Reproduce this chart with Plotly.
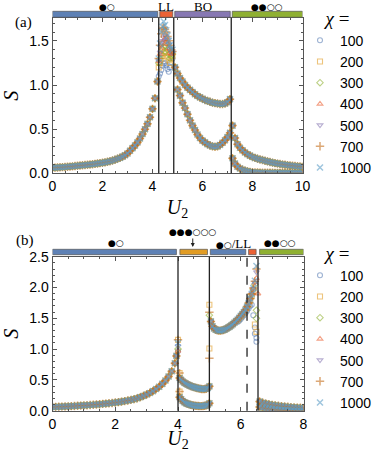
import numpy as np
import plotly.graph_objects as go

W, H = 374, 452

# ---------------- series definitions ----------------
chi_labels = ["100", "200", "300", "400", "500", "700", "1000"]
colors = ["#5E81B5", "#E19C24", "#8FB032", "#EB6235", "#8778B3", "#C56E1A", "#5D9EC7"]
symbols = ["circle-open", "square-open", "diamond-open", "triangle-up-open",
           "triangle-down-open", "cross-thin-open", "x-thin-open"]

# ---------------- panel (a) data ----------------
U_a1 = np.round(np.arange(0.0, 4.21, 0.1), 2)
S_a1 = [0.062, 0.064, 0.066, 0.068, 0.070, 0.072, 0.074, 0.076, 0.079, 0.082,
        0.085, 0.088, 0.091, 0.094, 0.097, 0.100, 0.103, 0.107, 0.111, 0.115,
        0.119, 0.124, 0.130, 0.137, 0.145, 0.154, 0.164, 0.175, 0.189, 0.205,
        0.225, 0.255, 0.285, 0.315, 0.350, 0.395, 0.445, 0.500, 0.560, 0.635,
        0.730, 0.850, 1.040]

U_a_LL = [4.25, 4.3, 4.35, 4.4, 4.45, 4.5, 4.55, 4.6, 4.65, 4.7, 4.75, 4.8]
S_a_LL = {
    "100":  [1.10, 1.13, 1.17, 1.22, 1.24, 1.25, 1.22, 1.18, 1.15, 1.20, 1.26, 1.30],
    "200":  [1.20, 1.25, 1.30, 1.33, 1.36, 1.38, 1.36, 1.32, 1.28, 1.25, 1.30, 1.33],
    "300":  [1.25, 1.30, 1.35, 1.40, 1.43, 1.45, 1.44, 1.40, 1.35, 1.30, 1.33, 1.35],
    "400":  [1.27, 1.35, 1.42, 1.48, 1.51, 1.52, 1.50, 1.46, 1.41, 1.36, 1.35, 1.36],
    "500":  [1.28, 1.37, 1.45, 1.50, 1.54, 1.56, 1.55, 1.51, 1.46, 1.40, 1.37, 1.37],
    "700":  [1.30, 1.45, 1.58, 1.64, 1.65, 1.63, 1.60, 1.55, 1.50, 1.45, 1.40, 1.38],
    "1000": [1.30, 1.47, 1.60, 1.66, 1.72, 1.68, 1.62, 1.56, 1.50, 1.45, 1.42, 1.40],
}

U_a_BO_up = np.round(np.arange(4.9, 7.11, 0.1), 2)
S_a_BO_up = [1.20, 1.13, 1.08, 1.04, 1.00, 0.97, 0.945, 0.92, 0.895, 0.875,
             0.86, 0.845, 0.83, 0.82, 0.81, 0.80, 0.795, 0.79, 0.785, 0.785,
             0.79, 0.805, 0.84]
U_a_BO_lo = np.round(np.arange(5.0, 7.11, 0.1), 2)
S_a_BO_lo = [0.95, 0.88, 0.80, 0.74, 0.67, 0.60, 0.54, 0.49, 0.44, 0.40,
             0.37, 0.35, 0.33, 0.315, 0.305, 0.30, 0.305, 0.32, 0.345, 0.375,
             0.41, 0.46]

U_a_R = np.round(np.arange(7.2, 10.01, 0.1), 2)
S_a_R_up = [0.54, 0.40, 0.33, 0.29, 0.26, 0.235, 0.215, 0.20, 0.185, 0.175,
            0.165, 0.157, 0.15, 0.142, 0.135, 0.128, 0.121, 0.115, 0.11, 0.105,
            0.10, 0.096, 0.093, 0.089, 0.086, 0.083, 0.08, 0.077, 0.075]
S_a_R_lo = [0.17, 0.11, 0.075, 0.055, 0.04, 0.03, 0.022, 0.016, 0.012, 0.010,
            0.009, 0.008, 0.007, 0.007, 0.006, 0.006, 0.006, 0.005, 0.005, 0.005,
            0.005, 0.005, 0.005, 0.005, 0.005, 0.005, 0.005, 0.005, 0.005]

# ---------------- panel (b) data ----------------
U_b1 = np.round(np.append(np.arange(0.0, 3.91, 0.1), 3.95), 2)
S_b1 = [0.060, 0.062, 0.064, 0.066, 0.068, 0.071, 0.074, 0.077, 0.080, 0.083,
        0.086, 0.089, 0.093, 0.097, 0.101, 0.105, 0.110, 0.115, 0.120, 0.126,
        0.132, 0.139, 0.147, 0.156, 0.165, 0.175, 0.188, 0.203, 0.220, 0.240,
        0.262, 0.288, 0.318, 0.352, 0.390, 0.435, 0.490, 0.555, 0.640, 0.770,
        0.890]
U_b1_end = 4.0
S_b1_end = {"100": 0.97, "200": 1.15, "300": 1.00, "400": 0.97,
            "500": 1.05, "700": 1.15, "1000": 1.10}

U_b2 = np.round(np.arange(4.05, 5.001, 0.05), 2)
S_b2_up = [0.53, 0.50, 0.475, 0.455, 0.44, 0.425, 0.413, 0.402, 0.392, 0.383,
           0.375, 0.368, 0.362, 0.357, 0.353, 0.351, 0.352, 0.357, 0.370, 0.395]
S_b2_lo = [0.22, 0.185, 0.158, 0.138, 0.123, 0.112, 0.103, 0.096, 0.090, 0.085,
           0.081, 0.078, 0.076, 0.075, 0.075, 0.077, 0.080, 0.086, 0.097, 0.120]

U_b3 = np.round(np.arange(5.05, 5.851, 0.05), 2)
S_b3 = [1.45, 1.37, 1.335, 1.315, 1.305, 1.30, 1.30, 1.305, 1.31, 1.32,
        1.335, 1.35, 1.365, 1.385, 1.405, 1.43, 1.455]
U_b3_tail = np.round(np.arange(5.9, 6.501, 0.05), 2)
S_b3_tail = {
    "100":  [1.44, 1.46, 1.49, 1.52, 1.55, 1.58, 1.62, 1.66, 1.70, 1.72, 1.55, 1.35, 1.18],
    "200":  [1.47, 1.50, 1.53, 1.56, 1.59, 1.63, 1.68, 1.73, 1.79, 1.86, 1.93, 1.40, 1.28],
    "300":  [1.48, 1.51, 1.54, 1.57, 1.60, 1.64, 1.69, 1.75, 1.82, 1.89, 1.97, 2.05, 1.63],
    "400":  [1.48, 1.51, 1.54, 1.57, 1.60, 1.64, 1.69, 1.75, 1.82, 1.90, 1.98, 2.08, 2.15],
    "500":  [1.48, 1.51, 1.54, 1.57, 1.60, 1.64, 1.69, 1.75, 1.82, 1.90, 1.98, 2.08, 2.25],
    "700":  [1.48, 1.51, 1.54, 1.57, 1.60, 1.64, 1.69, 1.75, 1.82, 1.90, 1.99, 2.10, 2.30],
    "1000": [1.48, 1.51, 1.54, 1.57, 1.60, 1.64, 1.69, 1.75, 1.82, 1.90, 1.99, 2.11, 2.35],
}

U_b4 = np.round(np.arange(6.6, 8.001, 0.1), 2)
S_b4_up = [0.15, 0.13, 0.115, 0.105, 0.095, 0.087, 0.080, 0.074, 0.068, 0.063,
           0.058, 0.054, 0.050, 0.047, 0.044]
S_b4_lo = [0.06, 0.045, 0.035, 0.027, 0.021, 0.016, 0.012, 0.009, 0.007, 0.005,
           0.004, 0.003, 0.003, 0.002, 0.002]

# isolated points of individual chi near transitions in (b)
extra_U_b = {"100": [6.45, 6.5], "200": [4.05, 4.05, 5.0, 5.0], "300": [5.0, 6.5],
             "400": [6.55], "500": [], "700": [4.05, 4.05, 5.0, 5.0], "1000": []}
extra_S_b = {"100": [1.25, 1.12], "200": [0.61, 0.31, 1.72, 1.01], "300": [1.55, 1.50],
             "400": [1.90], "500": [], "700": [0.61, 0.31, 1.60, 0.85], "1000": []}

# phase boundaries and bars
bounds_a = [4.25, 4.85, 7.15]
bar_a_start = [0.0, 4.29, 4.89, 7.19]
bar_a_end = [4.21, 4.81, 7.11, 10.0]
bar_a_color = ["#5E81B5", "#EB6235", "#8778B3", "#8FB032"]
bar_a_text = ["●○", "LL", "BO", "●●○○"]
bar_a_text_x = [2.18, 4.55, 6.02, 8.58]

bounds_b = [4.0, 5.0, 6.55]
bound_b_dashed = [6.2]
bar_b_start = [0.0, 4.06, 5.03, 6.25, 6.6]
bar_b_end = [3.95, 4.94, 6.16, 6.49, 8.0]
bar_b_color = ["#5E81B5", "#E19C24", "#5E81B5", "#EB6235", "#8FB032"]
bar_b_text = ["●○", "●○/LL", "●●○○"]
bar_b_text_x = [2.02, 5.78, 7.25]
arrow_b_x = 4.47
arrow_b_text = "●●●○○○"

# ---------------- figure ----------------
def pxx(px):
    return px / W

def pxy(py):
    return 1 - py / H

fig = go.Figure()

for i, lab in enumerate(chi_labels):
    Ua = np.concatenate([U_a1, U_a_LL, U_a_BO_up, U_a_BO_lo, U_a_R, U_a_R])
    Sa = np.concatenate([S_a1, S_a_LL[lab], S_a_BO_up, S_a_BO_lo, S_a_R_up, S_a_R_lo])
    Ub = np.concatenate([U_b1, [U_b1_end], U_b2, U_b2, U_b3, U_b3_tail, U_b4, U_b4, extra_U_b[lab]])
    Sb = np.concatenate([S_b1, [S_b1_end[lab]], S_b2_up, S_b2_lo, S_b3, S_b3_tail[lab],
                         S_b4_up, S_b4_lo, extra_S_b[lab]])
    thin = symbols[i].endswith("thin-open")
    mk = dict(symbol=symbols[i], size=6 if thin else 5, color=colors[i], opacity=0.6,
              line=dict(color=colors[i], width=1.5 if thin else 1.1))
    fig.add_trace(go.Scatter(x=Ua, y=Sa, mode="markers", marker=mk, name=lab,
                             xaxis="x", yaxis="y", legend="legend"))
    fig.add_trace(go.Scatter(x=Ub, y=Sb, mode="markers", marker=mk, name=lab,
                             xaxis="x2", yaxis="y2", legend="legend2"))

axis_common = dict(showline=True, mirror="allticks", linecolor="#555", linewidth=1,
                   ticks="inside", ticklen=4, tickcolor="#555", showgrid=False,
                   zeroline=False, automargin=False,
                   tickfont=dict(family="Liberation Sans", size=14, color="black"))
title_font = dict(family="Liberation Serif", size=20, color="black")

legend_common = dict(xanchor="left", yanchor="top",
                     title=dict(text="<i>χ</i> =", side="top center",
                                font=dict(family="Liberation Serif", size=19, color="black")),
                     font=dict(family="Liberation Sans", size=14, color="black"),
                     bgcolor="rgba(0,0,0,0)", itemwidth=30, tracegroupgap=0,
                     traceorder="normal")

fig.update_layout(
    width=W, height=H, margin=dict(l=0, r=0, t=0, b=0, autoexpand=False),
    paper_bgcolor="white", plot_bgcolor="white", showlegend=True,
    xaxis=dict(domain=[pxx(52.5), pxx(302.5)], range=[0, 10], dtick=2, tick0=0,
               minor=dict(ticks="inside", ticklen=2, dtick=0.5, tickcolor="#555"),
               title=dict(text="<i>U</i><sub>2</sub>", font=title_font, standoff=6),
               anchor="y", **axis_common),
    yaxis=dict(domain=[pxy(173.3), pxy(18)], range=[0, 1.759], dtick=0.5, tick0=0,
               tickformat=".1f",
               minor=dict(ticks="inside", ticklen=2, dtick=0.1, tickcolor="#555"),
               title=dict(text="<i>S</i>", font=title_font, standoff=8),
               anchor="x", **axis_common),
    xaxis2=dict(domain=[pxx(52.5), pxx(303.5)], range=[0, 8], dtick=2, tick0=0,
                minor=dict(ticks="inside", ticklen=2, dtick=0.5, tickcolor="#555"),
                title=dict(text="<i>U</i><sub>2</sub>", font=title_font, standoff=9),
                anchor="y2", **axis_common),
    yaxis2=dict(domain=[pxy(410.7), pxy(256.7)], range=[0, 2.5], dtick=0.5, tick0=0,
                tickformat=".1f",
                minor=dict(ticks="inside", ticklen=2, dtick=0.1, tickcolor="#555"),
                title=dict(text="<i>S</i>", font=title_font, standoff=8),
                anchor="x2", **axis_common),
    legend=dict(x=pxx(300), y=pxy(0), **legend_common),
    legend2=dict(x=pxx(300), y=pxy(235), **legend_common),
)

shapes = []
for xb in bounds_a:
    shapes.append(dict(type="line", xref="x", yref="y domain", x0=xb, x1=xb, y0=0, y1=1,
                       line=dict(color="#222", width=1.3)))
for xb in bounds_b:
    shapes.append(dict(type="line", xref="x2", yref="y2 domain", x0=xb, x1=xb, y0=0, y1=1,
                       line=dict(color="#222", width=1.3)))
for xb in bound_b_dashed:
    shapes.append(dict(type="line", xref="x2", yref="y2 domain", x0=xb, x1=xb, y0=0, y1=1,
                       line=dict(color="#222", width=1.3, dash="dash")))
for s, e, c in zip(bar_a_start, bar_a_end, bar_a_color):
    shapes.append(dict(type="rect", xref="x", yref="paper", x0=s, x1=e,
                       y0=pxy(17.3), y1=pxy(11.3), fillcolor=c,
                       line=dict(color="#555", width=0.7)))
for s, e, c in zip(bar_b_start, bar_b_end, bar_b_color):
    shapes.append(dict(type="rect", xref="x2", yref="paper", x0=s, x1=e,
                       y0=pxy(254.7), y1=pxy(249.3), fillcolor=c,
                       line=dict(color="#555", width=0.7)))
fig.update_layout(shapes=shapes)

serif = "Liberation Serif"
glyph = "DejaVu Sans"
glyph_size = 9
letter_size = 13


def label_font(t):
    if t.isalpha():
        return dict(family=serif, size=letter_size, color="black")
    return dict(family=glyph, size=glyph_size, color="black")


def label_text(t):
    # circles in a symbol font, letters in serif
    if "/" in t:
        a, b = t.split("/", 1)
        return (a + '<span style="font-family:Liberation Serif;font-size:%dpx">/' % letter_size
                + b + "</span>")
    return t


annotations = []
for t, xt in zip(bar_a_text, bar_a_text_x):
    annotations.append(dict(text=label_text(t), x=xt, xref="x", y=pxy(6.5), yref="paper",
                            showarrow=False, font=label_font(t),
                            yanchor="middle", borderpad=0))
for t, xt in zip(bar_b_text, bar_b_text_x):
    annotations.append(dict(text=label_text(t), x=xt, xref="x2", y=pxy(243), yref="paper",
                            showarrow=False, font=label_font(t), yanchor="middle",
                            borderpad=0))
annotations.append(dict(text=arrow_b_text, x=arrow_b_x, xref="x2", y=pxy(247), yref="paper",
                        showarrow=True, ax=0, ay=-15, arrowhead=2, arrowsize=0.8,
                        arrowwidth=1, arrowcolor="#222", font=label_font(arrow_b_text)))
annotations.append(dict(text="(a)", x=pxx(13), y=pxy(12), xref="paper", yref="paper",
                        showarrow=False, font=dict(family=serif, size=15, color="black")))
annotations.append(dict(text="(b)", x=pxx(14), y=pxy(240), xref="paper", yref="paper",
                        showarrow=False, font=dict(family=serif, size=15, color="black")))
fig.update_layout(annotations=annotations)

fig.write_html("out.html", config={"displayModeBar": False},
               post_script="document.body.style.margin='0px';"
                           "document.body.style.overflow='hidden';")
